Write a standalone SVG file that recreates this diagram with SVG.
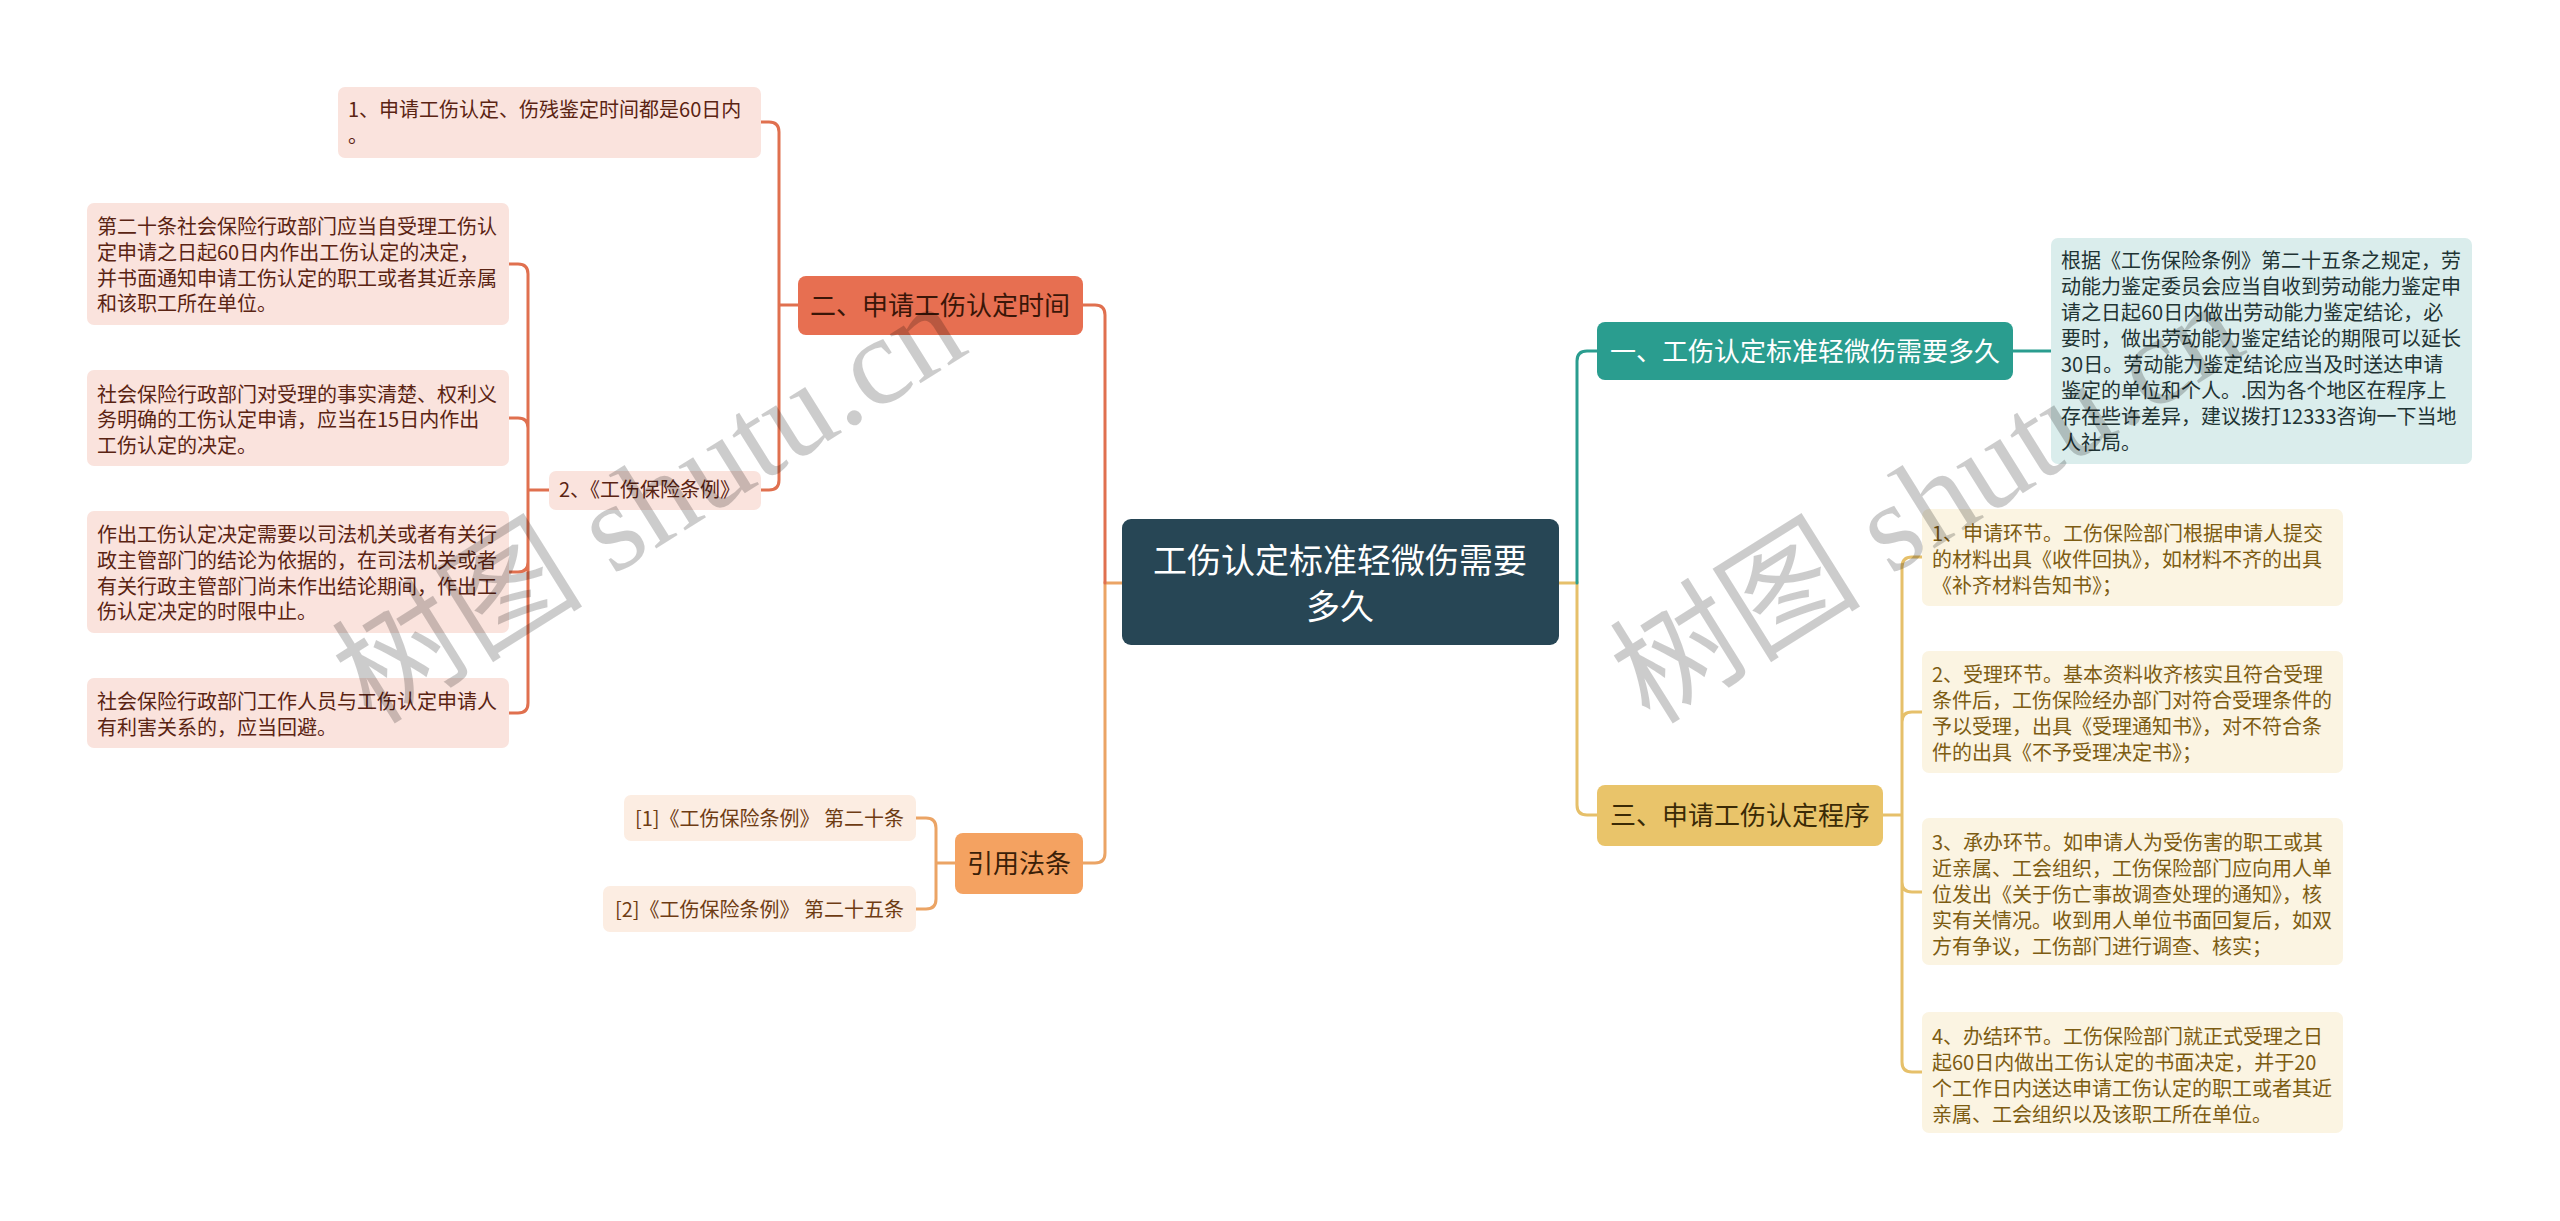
<svg xmlns="http://www.w3.org/2000/svg" width="2560" height="1221" viewBox="0 0 2560 1221">
<style>
text{font-family:"Noto Sans CJK SC","Noto Sans",sans-serif}
.c{fill:none;stroke-width:3;stroke-linecap:round}
.red{stroke:#E0704F}.org{stroke:#EBA465}.teal{stroke:#2A9D8F}.gold{stroke:#E6C06A}
.t20{font-size:20px}
.lL{fill:#FAE3DD}.tL{fill:#5a2413}
.lC{fill:#FCEDE2}.tC{fill:#6e3c14}
.lT{fill:#DAEDEC}.tT{fill:#1f3434}
.lG{fill:#FBF4E2}.tG{fill:#7d5c12}
.main{font-size:26px;text-anchor:middle}
.wm{font-size:126px;fill:#000;fill-opacity:0.2;font-family:"Liberation Serif","Noto Sans CJK SC",serif}
</style>
<rect width="2560" height="1221" fill="#ffffff"/>
<g id="connectors">
<path class="c org" d="M1122,583 H1105 V853 Q1105,863 1095,863 H1083"/>
<path class="c red" d="M1105,583 V315 Q1105,305 1095,305 H1083"/>
<path class="c red" d="M798,305 H779 M779,305 V132 Q779,122 769,122 H761 M779,305 V480 Q779,490 769,490 H761"/>
<path class="c red" d="M549,490 H528 M528,490 V274 Q528,264 518,264 H509 M528,490 V428 Q528,418 518,418 H509 M528,490 V562 Q528,572 518,572 H509 M528,490 V703 Q528,713 518,713 H509"/>
<path class="c org" d="M955,863 H936 M936,863 V828 Q936,818 926,818 H916 M936,863 V899 Q936,909 926,909 H916"/>
<path class="c gold" d="M1559,583 H1577 V805 Q1577,815 1587,815 H1597"/>
<path class="c teal" d="M1577,583 V361 Q1577,351 1587,351 H1597"/>
<path class="c teal" d="M2013,351 H2051"/>
<path class="c gold" d="M1883,815 H1902 M1902,815 V567 Q1902,557 1912,557 H1922 M1902,815 V722 Q1902,712 1912,712 H1922 M1902,815 V882 Q1902,892 1912,892 H1922 M1902,815 V1062 Q1902,1072 1912,1072 H1922"/>
</g>
<g id="center">
<rect x="1122" y="519" width="437" height="126" rx="9" fill="#274655"/>
<text x="1340" y="573" font-size="34" fill="#ffffff" text-anchor="middle">工伤认定标准轻微伤需要</text>
<text x="1340" y="619" font-size="34" fill="#ffffff" text-anchor="middle">多久</text>
</g>
<g id="n2">
<rect x="798" y="276" width="285" height="59" rx="8" fill="#E76F51"/>
<text class="main" x="940" y="315" fill="#3a1608">二、申请工伤认定时间</text>
</g>
<g id="n2a">
<rect class="lL" x="338" y="87" width="423" height="71" rx="7"/>
<text class="t20 tL" x="348" y="117">1、申请工伤认定、伤残鉴定时间都是60日内</text>
<text class="t20 tL" x="348" y="143">。</text>
</g>
<g id="n2b">
<rect class="lL" x="549" y="471" width="212" height="39" rx="7"/>
<text class="t20 tL" x="559" y="497">2、《工伤保险条例》</text>
</g>
<g id="n2b1">
<rect class="lL" x="87" y="203" width="422" height="122" rx="7"/>
<text class="t20 tL" x="97" y="234"><tspan x="97">第二十条社会保险行政部门应当自受理工伤认</tspan><tspan x="97" dy="25.8">定申请之日起60日内作出工伤认定的决定，</tspan><tspan x="97" dy="25.8">并书面通知申请工伤认定的职工或者其近亲属</tspan><tspan x="97" dy="25.8">和该职工所在单位。</tspan></text>
</g>
<g id="n2b2">
<rect class="lL" x="87" y="370" width="422" height="96" rx="7"/>
<text class="t20 tL" x="97" y="401.5"><tspan x="97">社会保险行政部门对受理的事实清楚、权利义</tspan><tspan x="97" dy="25.8">务明确的工伤认定申请，应当在15日内作出</tspan><tspan x="97" dy="25.8">工伤认定的决定。</tspan></text>
</g>
<g id="n2b3">
<rect class="lL" x="87" y="511" width="422" height="122" rx="7"/>
<text class="t20 tL" x="97" y="542"><tspan x="97">作出工伤认定决定需要以司法机关或者有关行</tspan><tspan x="97" dy="25.8">政主管部门的结论为依据的，在司法机关或者</tspan><tspan x="97" dy="25.8">有关行政主管部门尚未作出结论期间，作出工</tspan><tspan x="97" dy="25.8">伤认定决定的时限中止。</tspan></text>
</g>
<g id="n2b4">
<rect class="lL" x="87" y="678" width="422" height="70" rx="7"/>
<text class="t20 tL" x="97" y="709"><tspan x="97">社会保险行政部门工作人员与工伤认定申请人</tspan><tspan x="97" dy="25.8">有利害关系的，应当回避。</tspan></text>
</g>
<g id="cite">
<rect x="955" y="833" width="128" height="61" rx="8" fill="#F4A261"/>
<text class="main" x="1019" y="873" fill="#3a2008">引用法条</text>
</g>
<g id="cite1">
<rect class="lC" x="624" y="795" width="292" height="46" rx="7"/>
<text class="t20 tC" x="904" y="825.5" text-anchor="end">[1]《工伤保险条例》 第二十条</text>
</g>
<g id="cite2">
<rect class="lC" x="603" y="886" width="313" height="46" rx="7"/>
<text class="t20 tC" x="904" y="916.5" text-anchor="end">[2]《工伤保险条例》 第二十五条</text>
</g>
<g id="n1">
<rect x="1597" y="322" width="416" height="58" rx="8" fill="#2A9D8F"/>
<text class="main" x="1805" y="361" fill="#ffffff">一、工伤认定标准轻微伤需要多久</text>
</g>
<g id="n1a">
<rect class="lT" x="2051" y="238" width="421" height="226" rx="7"/>
<text class="t20 tT" x="2061" y="267.5"><tspan x="2061">根据《工伤保险条例》第二十五条之规定，劳</tspan><tspan x="2061" dy="26">动能力鉴定委员会应当自收到劳动能力鉴定申</tspan><tspan x="2061" dy="26">请之日起60日内做出劳动能力鉴定结论，必</tspan><tspan x="2061" dy="26">要时，做出劳动能力鉴定结论的期限可以延长</tspan><tspan x="2061" dy="26">30日。劳动能力鉴定结论应当及时送达申请</tspan><tspan x="2061" dy="26">鉴定的单位和个人。.因为各个地区在程序上</tspan><tspan x="2061" dy="26">存在些许差异，建议拨打12333咨询一下当地</tspan><tspan x="2061" dy="26">人社局。</tspan></text>
</g>
<g id="n3">
<rect x="1597" y="785" width="286" height="61" rx="8" fill="#E9C46A"/>
<text class="main" x="1740" y="825" fill="#3a2a06">三、申请工伤认定程序</text>
</g>
<g id="n3a">
<rect class="lG" x="1922" y="509" width="421" height="97" rx="7"/>
<text class="t20 tG" x="1932" y="540.5"><tspan x="1932">1、申请环节。工伤保险部门根据申请人提交</tspan><tspan x="1932" dy="26">的材料出具《收件回执》，如材料不齐的出具</tspan><tspan x="1932" dy="26">《补齐材料告知书》；</tspan></text>
</g>
<g id="n3b">
<rect class="lG" x="1922" y="651" width="421" height="122" rx="7"/>
<text class="t20 tG" x="1932" y="681.5"><tspan x="1932">2、受理环节。基本资料收齐核实且符合受理</tspan><tspan x="1932" dy="26">条件后，工伤保险经办部门对符合受理条件的</tspan><tspan x="1932" dy="26">予以受理，出具《受理通知书》，对不符合条</tspan><tspan x="1932" dy="26">件的出具《不予受理决定书》；</tspan></text>
</g>
<g id="n3c">
<rect class="lG" x="1922" y="818" width="421" height="147" rx="7"/>
<text class="t20 tG" x="1932" y="849.5"><tspan x="1932">3、承办环节。如申请人为受伤害的职工或其</tspan><tspan x="1932" dy="26">近亲属、工会组织，工伤保险部门应向用人单</tspan><tspan x="1932" dy="26">位发出《关于伤亡事故调查处理的通知》，核</tspan><tspan x="1932" dy="26">实有关情况。收到用人单位书面回复后，如双</tspan><tspan x="1932" dy="26">方有争议，工伤部门进行调查、核实；</tspan></text>
</g>
<g id="n3d">
<rect class="lG" x="1922" y="1012" width="421" height="121" rx="7"/>
<text class="t20 tG" x="1932" y="1043.5"><tspan x="1932">4、办结环节。工伤保险部门就正式受理之日</tspan><tspan x="1932" dy="26">起60日内做出工伤认定的书面决定，并于20</tspan><tspan x="1932" dy="26">个工作日内送达申请工伤认定的职工或者其近</tspan><tspan x="1932" dy="26">亲属、工会组织以及该职工所在单位。</tspan></text>
</g>
<g id="watermark">
<text class="wm" transform="translate(372,726) rotate(-32)">树图 shutu.cn</text>
<text class="wm" transform="translate(1650,726) rotate(-32)">树图 shutu.cn</text>
</g>
</svg>
